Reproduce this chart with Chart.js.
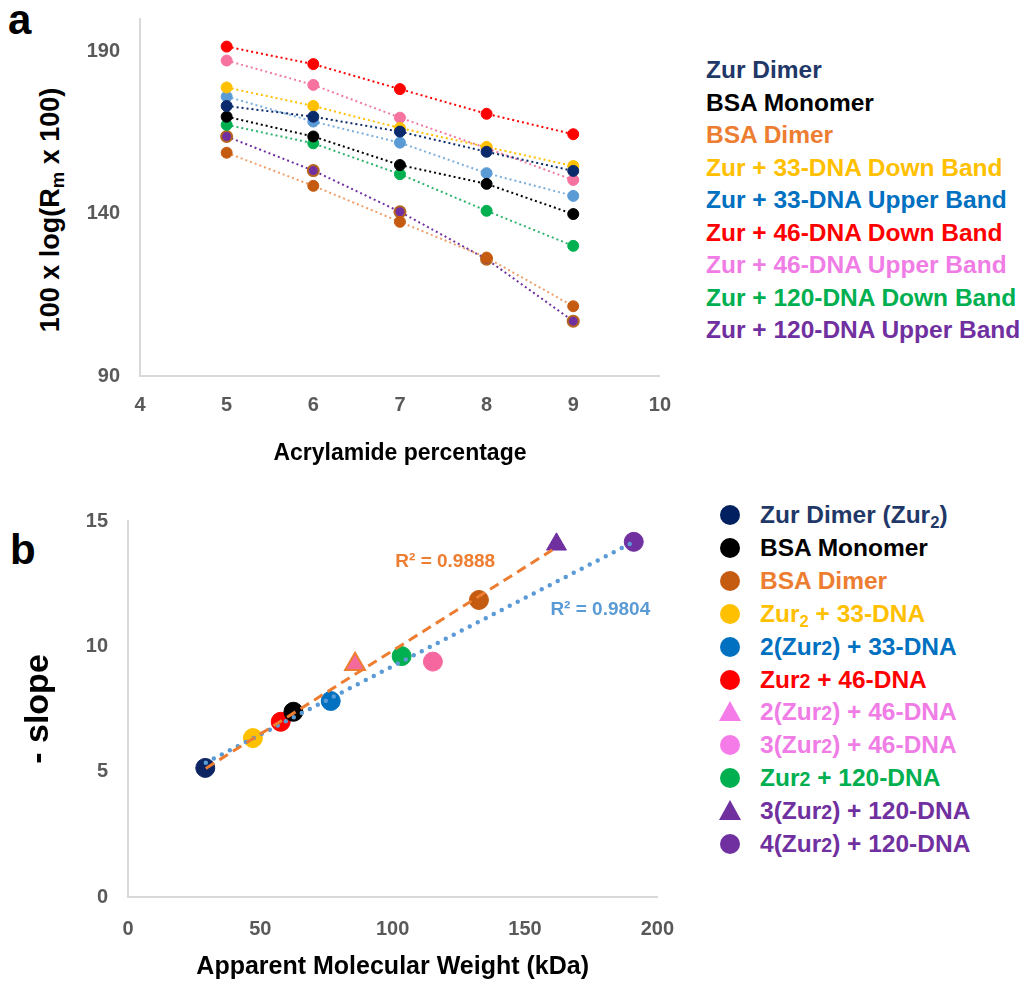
<!DOCTYPE html>
<html>
<head>
<meta charset="utf-8">
<script src="https://cdn.jsdelivr.net/npm/chart.js@4.4.1/dist/chart.umd.min.js"></script>
<style>
  body { margin: 0; background: #fff; font-family: "Liberation Sans", Arial, sans-serif; }
  #page { position: relative; width: 1024px; height: 990px; overflow: hidden; }
  canvas { position: absolute; left: 0; }
  .txt { position: absolute; font-weight: bold; white-space: nowrap; }
  .row { position: absolute; height: 32px; line-height: 32px; font-size: 24.5px; font-weight: bold; white-space: nowrap; }
  .mk { position: absolute; }
  sub { font-size: 0.68em; vertical-align: -0.3em; line-height: 0; }
  .s2 { font-size: 0.8em; }
</style>
</head>
<body>
<div id="page">
  <div class="txt" style="left:8px; top:-4px; font-size:42px;">a</div>
  <div class="txt" style="left:10px; top:526px; font-size:42px;">b</div>
  <div class="txt" style="left:50px; top:210px; font-size:27px; transform: translate(-50%, -50%) rotate(-90deg);">100 x log(R<sub>m</sub> x 100)</div>
  <canvas id="chartA" width="688" height="493" style="top:-13px"></canvas>
  <canvas id="chartB" width="694" height="501" style="top:489px"></canvas>
  <div id="legendA"></div>
  <div id="legendB"></div>
</div>
<script>
const FONT = '"Liberation Sans", Arial, sans-serif';

// ---- panel a: 100 x log(Rm x 100) vs acrylamide %
const acrylamide = [5, 6, 7, 8, 9];
const zurDimer     = [173.2, 169.9, 165.3, 159.1, 153.2];
const bsaMonomer   = [169.9, 163.8, 155.0, 149.2, 139.9];
const bsaDimer     = [158.8, 148.6, 137.5, 126.5, 111.5];
const zur33Down    = [178.9, 173.2, 166.4, 160.6, 154.7];
const zur33Up      = [176.1, 168.4, 161.9, 152.5, 145.5];
const zur46Down    = [191.5, 186.1, 178.4, 170.8, 164.5];
const zur46Up      = [187.2, 179.7, 169.6, 160.2, 150.4];
const zur120Down   = [167.4, 161.7, 152.2, 140.9, 130.1];
const zur120Up     = [163.8, 153.3, 140.6, 126.0, 106.9];
const xTicksA = [4, 5, 6, 7, 8, 9, 10];
const yTicksA = [90, 140, 190];

const namesA = ['Zur Dimer', 'BSA Monomer', 'BSA Dimer', 'Zur + 33-DNA Down Band', 'Zur + 33-DNA Upper Band',
  'Zur + 46-DNA Down Band', 'Zur + 46-DNA Upper Band', 'Zur + 120-DNA Down Band', 'Zur + 120-DNA Upper Band'];
const valuesA = [zurDimer, bsaMonomer, bsaDimer, zur33Down, zur33Up, zur46Down, zur46Up, zur120Down, zur120Up];
const markA = ['#0b2a6b', '#000000', '#c55a11', '#ffc000', '#5b9bd5', '#ff0000', '#f7739f', '#00b050', '#7030a0'];
const lineA = ['#0b2a6b', '#000000', '#eda06a', '#ffc000', '#7aaedc', '#ff0000', '#f07ba6', '#2db36a', '#7030a0'];
const textA = ['#1f3868', '#000000', '#ed7d31', '#ffc000', '#0070c0', '#ff0000', '#f07de6', '#00b050', '#7030a0'];

// ---- panel b: -slope vs apparent molecular weight
const namesB = ['Zur Dimer (Zur<sub>2</sub>)', 'BSA Monomer', 'BSA Dimer', 'Zur<sub>2</sub> + 33-DNA',
  '2(Zur<span class="s2">2</span>) + 33-DNA', 'Zur<span class="s2">2</span> + 46-DNA',
  '2(Zur<span class="s2">2</span>) + 46-DNA', '3(Zur<span class="s2">2</span>) + 46-DNA',
  'Zur<span class="s2">2</span> + 120-DNA', '3(Zur<span class="s2">2</span>) + 120-DNA', '4(Zur<span class="s2">2</span>) + 120-DNA'];
const mwApparent = [29.2, 62.5, 132.6, 47.2, 76.6, 57.7, 85.8, 115.2, 103.4, 161.9, 191.1];
const negSlope   = [5.15, 7.39, 11.85, 6.34, 7.82, 6.99, 9.29, 9.39, 9.61, 14.07, 14.17];
const shapeB = ['circle', 'circle', 'circle', 'circle', 'circle', 'circle', 'triangle', 'circle', 'circle', 'triangle', 'circle'];
const markB = ['#0d2463', '#000000', '#c55a11', '#ffc000', '#0070c0', '#ff0000', '#f56a9c', '#f7679f', '#00b050', '#7030a0', '#7030a0'];
const legMarkB = ['#002060', '#000000', '#c55a11', '#ffc000', '#0070c0', '#ff0000', '#f47be8', '#f47be8', '#00b050', '#7030a0', '#7030a0'];
const textB = ['#1f3868', '#000000', '#ed7d31', '#ffc000', '#0070c0', '#ff0000', '#f07de6', '#f07de6', '#00b050', '#7030a0', '#7030a0'];
const trendOrangeX = [29.4, 160.3];
const trendOrangeY = [5.13, 13.84];
const trendBlueX = [29.4, 191.1];
const trendBlueY = [5.36, 14.17];
const r2Text = ['R² = 0.9888', 'R² = 0.9804'];
const r2X = [101, 159.6];
const r2Y = [13.36, 11.45];
const r2Color = ['#ed7d31', '#5b9bd5'];
const xTicksB = [0, 50, 100, 150, 200];
const yTicksB = [0, 5, 10, 15];

const tickFont = { family: FONT, size: 20, weight: 'bold' };
const axisBorder = { display: true, color: '#d9d9d9', width: 2 };

new Chart(document.getElementById('chartA'), {
  type: 'scatter',
  data: {
    datasets: namesA.map((name, i) => ({
      label: name,
      data: acrylamide.map((x, j) => ({ x: x, y: valuesA[i][j] })),
      showLine: true,
      borderColor: lineA[i],
      borderWidth: 2,
      borderDash: [2, 3],
      pointRadius: 5.5,
      pointBackgroundColor: markA[i],
      pointBorderColor: i === 8 ? '#b5651d' : markA[i],
      pointBorderWidth: i === 8 ? 2 : 1
    }))
  },
  options: {
    responsive: false, animation: false, devicePixelRatio: 1,
    layout: { padding: 0 },
    plugins: { legend: { display: false }, tooltip: { enabled: false } },
    scales: {
      x: {
        type: 'linear', min: 4, max: 10,
        grid: { display: false, drawTicks: false }, border: axisBorder,
        afterBuildTicks: s => { s.ticks = xTicksA.map(v => ({ value: v })); },
        afterFit: s => { s.height = 104; },
        ticks: { font: tickFont, color: '#595959', padding: 17 },
        title: { display: true, text: 'Acrylamide percentage', color: '#000', font: { family: FONT, size: 23, weight: 'bold' }, padding: { top: 0, bottom: 13 } }
      },
      y: {
        min: 90, max: 200,
        grid: { display: false, drawTicks: false }, border: axisBorder,
        afterBuildTicks: s => { s.ticks = yTicksA.map(v => ({ value: v })); },
        afterFit: s => { s.width = 140; },
        ticks: { font: tickFont, color: '#595959', padding: 20 }
      }
    }
  }
});

const r2Labels = {
  id: 'r2Labels',
  afterDatasetsDraw(chart) {
    const { ctx, scales } = chart;
    ctx.save();
    ctx.font = 'bold 19px ' + FONT;
    ctx.textBaseline = 'middle';
    r2Text.forEach((t, i) => {
      ctx.fillStyle = r2Color[i];
      ctx.fillText(t, scales.x.getPixelForValue(r2X[i]), scales.y.getPixelForValue(r2Y[i]));
    });
    ctx.restore();
  }
};

const trendSets = [
  {
    data: trendOrangeX.map((x, j) => ({ x: x, y: trendOrangeY[j] })),
    showLine: true, borderColor: '#ed7d31', borderWidth: 3, borderDash: [10, 6],
    pointRadius: 0, order: 0
  },
  {
    data: trendBlueX.map((x, j) => ({ x: x, y: trendBlueY[j] })),
    showLine: true, borderColor: '#5b9bd5', borderWidth: 4.5, borderDash: [0, 9], borderCapStyle: 'round',
    pointRadius: 0, order: 0
  }
];

new Chart(document.getElementById('chartB'), {
  type: 'scatter',
  data: {
    datasets: trendSets.concat(namesB.map((name, i) => ({
      label: name,
      data: [{ x: mwApparent[i], y: negSlope[i] }],
      pointStyle: shapeB[i],
      pointRadius: shapeB[i] === 'triangle' ? 11.5 : 9.5,
      pointBackgroundColor: markB[i],
      pointBorderColor: i === 6 ? '#ed7d31' : markB[i],
      pointBorderWidth: i === 6 ? 2 : 1,
      order: 1
    })))
  },
  options: {
    responsive: false, animation: false, devicePixelRatio: 1,
    layout: { padding: 0 },
    plugins: { legend: { display: false }, tooltip: { enabled: false } },
    scales: {
      x: {
        type: 'linear', min: 0, max: 200,
        grid: { display: false, drawTicks: false }, border: axisBorder,
        afterBuildTicks: s => { s.ticks = xTicksB.map(v => ({ value: v })); },
        afterFit: s => { s.height = 93; },
        ticks: { font: tickFont, color: '#595959', padding: 20 },
        title: { display: true, text: 'Apparent Molecular Weight (kDa)', color: '#000', font: { family: FONT, size: 25, weight: 'bold' }, padding: { top: 0, bottom: 8 } }
      },
      y: {
        min: 0, max: 15,
        grid: { display: false, drawTicks: false }, border: axisBorder,
        afterBuildTicks: s => { s.ticks = yTicksB.map(v => ({ value: v })); },
        afterFit: s => { s.width = 128; },
        ticks: { font: tickFont, color: '#595959', padding: 20 },
        title: { display: true, text: '- slope', color: '#000', font: { family: FONT, size: 34, weight: 'bold' }, padding: { top: 18, bottom: 0 } }
      }
    }
  },
  plugins: [r2Labels]
});

// legends (text coloured like the source figure)
const legA = document.getElementById('legendA');
legA.innerHTML = namesA.map((n, i) =>
  `<div class="row" style="left:706px; top:${54 + i * 32.5}px; color:${textA[i]}">${n}</div>`).join('');

const legB = document.getElementById('legendB');
legB.innerHTML = namesB.map((n, i) => {
  const cy = 515 + i * 32.9;
  const mk = shapeB[i] === 'triangle'
    ? `<div class="mk" style="left:719px; top:${cy - 11}px; width:0; height:0; border-left:11px solid transparent; border-right:11px solid transparent; border-bottom:20px solid ${legMarkB[i]};"></div>`
    : `<div class="mk" style="left:720px; top:${cy - 10}px; width:20px; height:20px; border-radius:50%; background:${legMarkB[i]};"></div>`;
  return mk + `<div class="row" style="left:760px; top:${cy - 16}px; color:${textB[i]}">${n}</div>`;
}).join('');
</script>
</body>
</html>
